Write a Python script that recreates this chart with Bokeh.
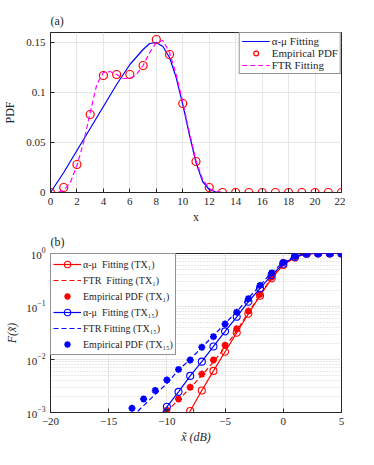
from bokeh.plotting import figure
from bokeh.layouts import column
from bokeh.models import (FixedTicker, Legend, LegendItem, Range1d)
from bokeh.embed import file_html
from bokeh.resources import INLINE

FONT = "Liberation Serif"
AX = "#262626"

# ---------------- Panel (a) data ----------------
emp_x = list(range(0, 23))
emp_y = [0, 0.005, 0.028, 0.078, 0.117, 0.118, 0.118, 0.127, 0.153, 0.138, 0.089,
         0.031, 0.005, 0, 0, 0, 0, 0, 0, 0, 0, 0, 0]
am_x = [0, 1, 2, 3, 4, 5, 6, 7, 7.5, 8, 8.5, 9, 9.5, 10, 10.5, 11, 11.5, 12, 12.5, 13, 22]
am_y = [0, 0.02, 0.042, 0.064, 0.086, 0.108, 0.128, 0.143, 0.149, 0.15, 0.146, 0.135,
        0.115, 0.088, 0.058, 0.03, 0.011, 0.003, 0.0005, 0, 0]
ftr_x = [0, 0.5, 1, 1.5, 2, 2.5, 3, 3.5, 4, 4.5, 5, 5.5, 6, 6.5, 7, 7.5, 8, 8.5, 9,
         9.5, 10, 10.5, 11, 11.5, 12, 12.5, 13, 22]
ftr_y = [0, 0.0, 0.002, 0.01, 0.027, 0.05, 0.08, 0.108, 0.12, 0.121, 0.118, 0.114,
         0.114, 0.118, 0.127, 0.14, 0.15, 0.152, 0.14, 0.118, 0.09, 0.06, 0.032,
         0.013, 0.004, 0.001, 0, 0]
a_xticks = list(range(0, 23, 2))
a_yticks = [0, 0.05, 0.1, 0.15]
a_ylabels = {"0": "0", "0.05": "0.05", "0.1": "0.1", "0.15": "0.15"}

# ---------------- Panel (b) data ----------------
r_am_x = [-9, -8, -7, -6, -5, -4, -3, -2, -1, 0, 1, 2, 3, 4, 5]
r_am_y = [4.5e-4, 1.07e-3, 2.6e-3, 6.1e-3, 0.014, 0.032, 0.073, 0.16, 0.34, 0.61, 0.84, 0.99, 1, 1, 1]
r_am_mx = [-8, -7, -6, -5, -4, -3, -2, -1, 0, 1, 2, 3, 4, 5]
r_am_my = [1.07e-3, 2.6e-3, 6.1e-3, 0.014, 0.032, 0.073, 0.16, 0.34, 0.61, 0.84, 0.99, 1, 1, 1]
r_ftr_x = [-11, -10, -9, -8, -7, -6, -5, -4, -3, -2, -1, 0, 1, 2, 3, 4, 5]
r_ftr_y = [6e-4, 1.05e-3, 1.75e-3, 2.9e-3, 5.0e-3, 9.0e-3, 0.017, 0.035, 0.077, 0.165, 0.35, 0.64, 0.87, 0.98, 1, 1, 1]
r_emp_x = [-10, -9, -8, -7, -6, -5, -4, -3, -2, -1, 0, 1, 2, 3, 4, 5]
r_emp_y = [1.1e-3, 1.8e-3, 3.0e-3, 5.3e-3, 9.8e-3, 0.0186, 0.038, 0.082, 0.17, 0.36, 0.68, 0.88, 1, 1, 1, 1]

b_am_x = [-11, -10, -9, -8, -7, -6, -5, -4, -3, -2, -1, 0, 1, 2, 3, 4, 5]
b_am_y = [6.5e-4, 1.28e-3, 2.45e-3, 4.9e-3, 9.1e-3, 0.0176, 0.034, 0.064, 0.123, 0.22, 0.39, 0.64, 0.86, 0.99, 1, 1, 1]
b_am_mx = [-10, -9, -8, -7, -6, -5, -4, -3, -2, -1, 0, 1, 2, 3, 4, 5]
b_am_my = [1.28e-3, 2.45e-3, 4.9e-3, 9.1e-3, 0.0176, 0.034, 0.064, 0.123, 0.22, 0.39, 0.64, 0.86, 0.99, 1, 1, 1]
b_ftr_x = [-13, -12, -11, -10, -9, -8, -7, -6, -5, -4, -3, -2, -1, 0, 1, 2, 3, 4, 5]
b_ftr_y = [8.3e-4, 1.35e-3, 2.2e-3, 3.5e-3, 6.4e-3, 0.01, 0.017, 0.028, 0.048, 0.08, 0.144, 0.25, 0.44, 0.68, 0.9, 1, 1, 1, 1]
b_emp_x = [-13, -12, -11, -10, -9, -8, -7, -6, -5, -4, -3, -2, -1, 0, 1, 2, 3, 4, 5]
b_emp_y = [1.2e-3, 1.8e-3, 2.6e-3, 4.1e-3, 6.5e-3, 9.8e-3, 0.017, 0.027, 0.047, 0.078, 0.14, 0.25, 0.43, 0.68, 0.9, 1, 1, 1, 1]

b_xticks = [-20, -15, -10, -5, 0, 5]
b_yticks = [0.001, 0.01, 0.1, 1]
b_ylabels = {"0.001": "10⁻³", "0.01": "10⁻²", "0.1": "10⁻¹", "1": "10⁰",
             "1e-3": "10⁻³"}
b_minor = [k * 10.0 ** d for d in (-3, -2, -1) for k in range(1, 10)] + [1.0]


def style(p):
    p.background_fill_color = "white"
    p.border_fill_color = "white"
    p.outline_line_color = AX
    p.outline_line_width = 1
    for ax in (p.xaxis, p.yaxis):
        ax.axis_line_color = AX
        ax.major_tick_in = 4
        ax.major_tick_out = 0
        ax.minor_tick_in = 0
        ax.minor_tick_out = 0
        ax.major_tick_line_color = AX
        ax.major_label_text_font = FONT
        ax.major_label_text_font_size = "11px"
        ax.major_label_text_color = AX
        ax.axis_label_text_font = FONT
        ax.axis_label_text_font_size = "12px"
        ax.axis_label_text_font_style = "normal"
        ax.axis_label_text_color = AX
    p.xgrid.grid_line_color = "#e6e6e6"
    p.ygrid.grid_line_color = "#e6e6e6"
    p.title.text_font = FONT
    p.title.text_font_size = "12px"
    p.title.text_font_style = "normal"
    p.title.text_color = AX
    p.title.align = "left"


# ---------------- Figure (a) ----------------
pa = figure(width=345, height=227, output_backend="svg", toolbar_location=None,
            x_range=Range1d(0, 22), y_range=Range1d(0, 0.16), title="(a)",
            min_border_left=40, min_border_right=4, min_border_top=32, min_border_bottom=35)
style(pa)
pa.xaxis.ticker = FixedTicker(ticks=a_xticks)
pa.yaxis.ticker = FixedTicker(ticks=a_yticks)
pa.yaxis.major_label_overrides = a_ylabels
pa.xaxis.axis_label = "x"
pa.yaxis.axis_label = "PDF"
pa.xaxis.axis_label_standoff = 2
pa.yaxis.axis_label_standoff = 6

ra1 = pa.line(am_x, am_y, line_color="#0000FF", line_width=1.2)
ra2 = pa.scatter(emp_x, emp_y, marker="circle", size=8, fill_color=None,
                 line_color="#FF0000", line_width=1.2)
ra3 = pa.line(ftr_x, ftr_y, line_color="#FF00FF", line_width=1.2, line_dash="5 3")

lega = Legend(items=[LegendItem(label="α-μ Fitting", renderers=[ra1]),
                     LegendItem(label="Empirical PDF", renderers=[ra2]),
                     LegendItem(label="FTR Fitting", renderers=[ra3])],
              location="top_right")
pa.add_layout(lega)

# ---------------- Figure (b) ----------------
pb = figure(width=345, height=220, output_backend="svg", toolbar_location=None,
            x_range=Range1d(-20, 5), y_range=Range1d(0.001, 1), y_axis_type="log",
            title="(b)",
            min_border_left=40, min_border_right=4, min_border_top=26, min_border_bottom=35)
style(pb)
pb.xaxis.ticker = FixedTicker(ticks=b_xticks)
pb.yaxis.ticker = FixedTicker(ticks=b_yticks, minor_ticks=b_minor)
pb.yaxis.major_label_overrides = b_ylabels
pb.xaxis.axis_label = "x̃ (dB)"
pb.yaxis.axis_label = "F(x̃)"
pb.xaxis.axis_label_text_font_style = "italic"
pb.yaxis.axis_label_text_font_style = "italic"
pb.xaxis.axis_label_standoff = 2
pb.yaxis.axis_label_standoff = 4
pb.ygrid.minor_grid_line_color = "#d0d0d0"
pb.ygrid.minor_grid_line_dash = "1 2"

RED = "#FF0000"
BLUE = "#0000FF"
r1l = pb.line(r_am_x, r_am_y, line_color=RED, line_width=1.2)
r1m = pb.scatter(r_am_mx, r_am_my, marker="circle", size=7, fill_color=None,
                 line_color=RED, line_width=1.1)
r2 = pb.line(r_ftr_x, r_ftr_y, line_color=RED, line_width=1.2, line_dash="5 3")
r3 = pb.scatter(r_emp_x, r_emp_y, marker="asterisk", size=7, line_color=RED, line_width=2)
b1l = pb.line(b_am_x, b_am_y, line_color=BLUE, line_width=1.2)
b1m = pb.scatter(b_am_mx, b_am_my, marker="circle", size=7, fill_color=None,
                 line_color=BLUE, line_width=1.1)
b2 = pb.line(b_ftr_x, b_ftr_y, line_color=BLUE, line_width=1.2, line_dash="5 3")
b3 = pb.scatter(b_emp_x, b_emp_y, marker="asterisk", size=7, line_color=BLUE, line_width=2)

legb = Legend(items=[LegendItem(label="α-μ  Fitting (TX₁)", renderers=[r1l, r1m]),
                     LegendItem(label="FTR  Fitting (TX₁)", renderers=[r2]),
                     LegendItem(label="Empirical PDF (TX₁)", renderers=[r3]),
                     LegendItem(label="α-μ  Fitting (TX₁₅)", renderers=[b1l, b1m]),
                     LegendItem(label="FTR Fitting (TX₁₅)", renderers=[b2]),
                     LegendItem(label="Empirical PDF (TX₁₅)", renderers=[b3])],
              location="top_left")
pb.add_layout(legb)

for lg, h, fs in ((lega, 12, "11px"), (legb, 16, "10px")):
    lg.label_text_font = FONT
    lg.label_text_font_size = fs
    lg.label_text_color = AX
    lg.label_height = h
    lg.glyph_height = h
    lg.glyph_width = 28
    lg.spacing = 0
    lg.padding = 2
    lg.margin = 0
    lg.label_standoff = 2
    lg.border_line_color = AX
    lg.border_line_width = 1
    lg.background_fill_alpha = 1

layout = column(pa, pb, spacing=0)
open("out.html", "w").write(file_html(layout, INLINE))
